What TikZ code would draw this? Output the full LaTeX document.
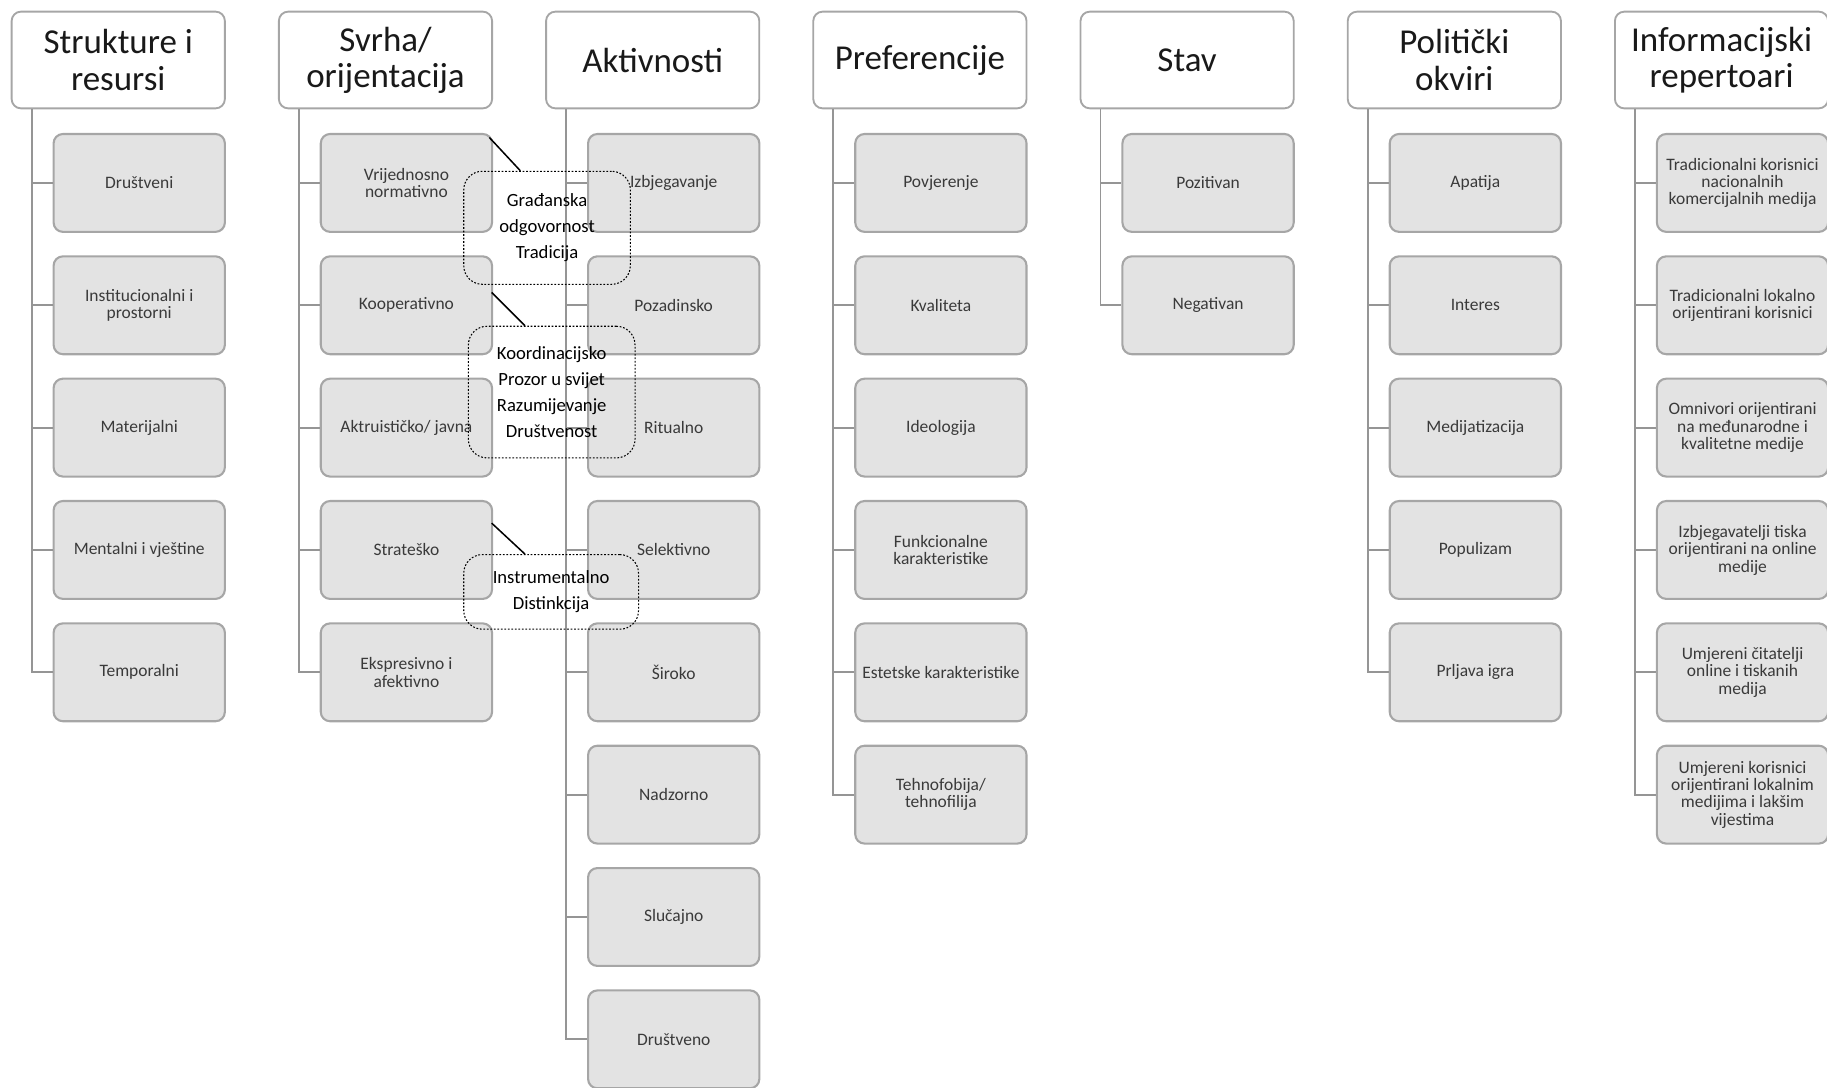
\documentclass[tikz,border=0pt]{standalone}
\usepackage{fontspec}
\setmainfont{Carlito}
\definecolor{boxline}{HTML}{A6A6A6}
\definecolor{boxfill}{HTML}{E3E3E3}
\definecolor{boxtext}{HTML}{3A3A3A}
\tikzset{
  head/.style={draw=boxline,line width=1.6pt,fill=white,rounded corners=8pt,minimum width=183pt,minimum height=83pt,inner sep=0pt,align=center,text=black!90,font=\fontsize{30}{31}\selectfont},
  item/.style={draw=boxline,line width=1.8pt,fill=boxfill,rounded corners=8pt,minimum width=147pt,minimum height=84pt,inner sep=0pt,align=center,text=boxtext,font=\fontsize{15}{15}\selectfont},
  trunk/.style={draw=boxline!90!black,line width=1.6pt},
  callout/.style={draw,line width=0.9pt,dash pattern=on 1.5pt off 1.5pt,rounded corners=16pt,inner sep=0pt,align=center,font=\fontsize{16}{22.5}\selectfont},
  pointer/.style={draw,line width=1.3pt}
}
\begin{document}
\begin{tikzpicture}[x=1pt,y=-1pt]
\useasboundingbox (0,0) rectangle (1568,933);
% headers
\foreach \gt[count=\i from 0] in {{Strukture i\\resursi},{Svrha/\\orijentacija},Aktivnosti,Preferencije,Stav,{Politički\\okviri},{Informacijski\\repertoari}}
  \path (101.5+229.33*\i,51.5) node[head](h\i){\gt};
% items
\foreach \gt[count=\i] in {Društveni,{Institucionalni i\\prostorni},Materijalni,{Mentalni i vještine},Temporalni}
  \path (119.5,52+105*\i) node[item](k0\i){\gt};
\foreach \gt[count=\i] in {{Vrijednosno\\normativno},Kooperativno,{Aktruističko/ javna},Strateško,{Ekspresivno i\\afektivno}}
  \path (348.8,52+105*\i) node[item](k1\i){\gt};
\foreach \gt[count=\i] in {Izbjegavanje,Pozadinsko,Ritualno,Selektivno,Široko,Nadzorno,Slučajno,Društveno}
  \path (578.2,52+105*\i) node[item](k2\i){\gt};
\foreach \gt[count=\i] in {Povjerenje,Kvaliteta,Ideologija,{Funkcionalne\\karakteristike},{Estetske karakteristike},{Tehnofobija/\\tehnofilija}}
  \path (807.5,52+105*\i) node[item](k3\i){\gt};
\foreach \gt[count=\i] in {Pozitivan,Negativan}
  \path (1036.8,52+105*\i) node[item](k4\i){\gt};
\foreach \gt[count=\i] in {Apatija,Interes,Medijatizacija,Populizam,{Prljava igra}}
  \path (1266.2,52+105*\i) node[item](k5\i){\gt};
\foreach \gt[count=\i] in {{Tradicionalni korisnici\\nacionalnih\\komercijalnih medija},{Tradicionalni lokalno\\orijentirani korisnici},{Omnivori orijentirani\\na međunarodne i\\kvalitetne medije},{Izbjegavatelji tiska\\orijentirani na online\\medije},{Umjereni čitatelji\\online i tiskanih\\medija},{Umjereni korisnici\\orijentirani lokalnim\\medijima i lakšim\\vijestima}}
  \path (1495.5,52+105*\i) node[item](k6\i){\gt};
% trunks and branches
\foreach \c/\n in {0/5,1/5,2/8,3/6,4/2,5/5,6/6}{
  \coordinate (t\c) at ([xshift=18pt]h\c.south west);
  \draw[trunk] (t\c) |- (k\c\n.west);
  \foreach \i in {1,...,\n} \draw[trunk] (t\c |- k\c\i.west) -- (k\c\i.west);
}
% callouts
\node[callout,minimum width=143pt,minimum height=97pt] (cal1) at (469.5,195.5) {Građanska\\odgovornost\\Tradicija};
\node[callout,minimum width=143pt,minimum height=113pt] (cal2) at (473.5,336.5) {Koordinacijsko\\Prozor u svijet\\Razumijevanje\\Društvenost};
\node[callout,minimum width=150pt,minimum height=64pt] (cal3) at (473,508) {Instrumentalno\\Distinkcija};
\coordinate (p1) at (420,118);
\coordinate (p2) at (422,251);
\coordinate (p3) at (422,449);
\draw[pointer] (p1) -- ([xshift=49pt]cal1.north west);
\draw[pointer] (p2) -- ([xshift=49pt]cal2.north west);
\draw[pointer] (p3) -- ([xshift=53pt]cal3.north west);
\end{tikzpicture}
\end{document}
